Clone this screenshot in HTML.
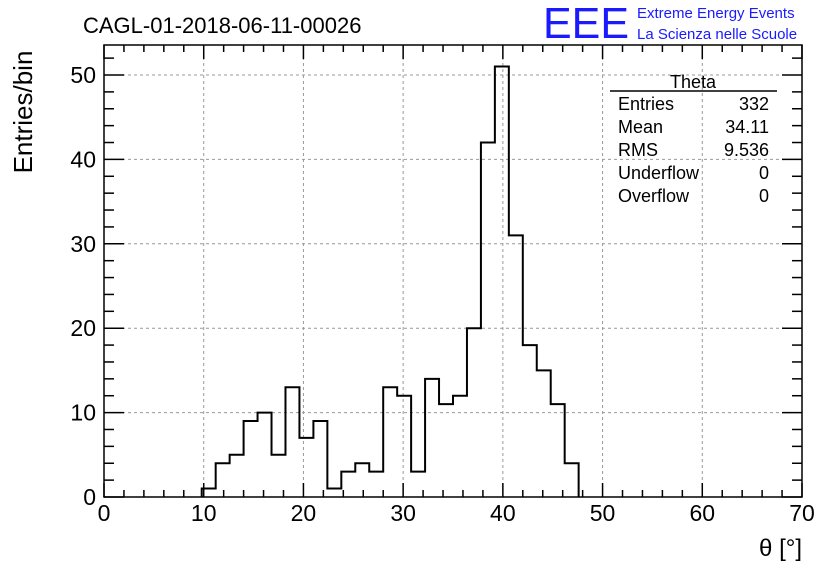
<!DOCTYPE html>
<html><head><meta charset="utf-8"><style>
body{margin:0;background:#fff;}
svg{display:block;font-family:"Liberation Sans",sans-serif;}
</style></head><body>
<svg id="c" width="836" height="572" viewBox="0 0 836 572">
<text x="83" y="33" font-size="22">CAGL-01-2018-06-11-00026</text>
<text x="543" y="38" font-size="44" fill="#1a1aff" font-weight="normal" textLength="86" lengthAdjust="spacingAndGlyphs">EEE</text>
<text x="637" y="18" font-size="15" fill="#1a1aff">Extreme Energy Events</text>
<text x="637" y="39" font-size="15" fill="#1a1aff">La Scienza nelle Scuole</text>
<text transform="translate(32,112) rotate(-90)" font-size="26" text-anchor="middle">Entries/bin</text>
<text x="802" y="556" font-size="24" text-anchor="end">θ [°]</text>
<g id="grid"></g><g id="ticks"></g><g id="labels"></g>
<path id="hist" fill="none" stroke="#000" stroke-width="2"/>
<rect x="104" y="45" width="698" height="452" fill="none" stroke="#000" stroke-width="1.5"/>
<g font-size="18">
<text x="693" y="88" text-anchor="middle">Theta</text>
<line x1="610" y1="91" x2="777" y2="91" stroke="#000" stroke-width="1.5"/>
<text x="618" y="110">Entries</text><text x="769" y="110" text-anchor="end">332</text>
<text x="618" y="133">Mean</text><text x="769" y="133" text-anchor="end">34.11</text>
<text x="618" y="156">RMS</text><text x="769" y="156" text-anchor="end">9.536</text>
<text x="618" y="179">Underflow</text><text x="769" y="179" text-anchor="end">0</text>
<text x="618" y="202">Overflow</text><text x="769" y="202" text-anchor="end">0</text>
</g>
</svg>
<script>
const binStart = 7;
const binWidth = 1.4;
const counts = [1,4,5,9,10,5,13,7,9,1,3,4,3,13,12,3,14,11,12,20,42,51,31,18,15,11,4];
const xTicks = [0,10,20,30,40,50,60,70];
const yTicks = [0,10,20,30,40,50];
const X0=104,X1=802,Y0=497,Y1=75;
const sx=v=>X0+(X1-X0)*v/70;
const sy=v=>Y0-(Y0-Y1)*v/50;
const ns="http://www.w3.org/2000/svg";
function mk(t,a,p){const e=document.createElementNS(ns,t);for(const k in a)e.setAttribute(k,a[k]);p.appendChild(e);return e;}
const grid=document.getElementById('grid'),ticks=document.getElementById('ticks'),labels=document.getElementById('labels');
xTicks.forEach(v=>{
  if(v>0&&v<70){const g=mk('line',{x1:sx(v),x2:sx(v),y1:45,y2:497,stroke:'#999','stroke-dasharray':'3,3'},grid);
  
  }
  const t=mk('text',{x:sx(v),y:521,'font-size':23,'text-anchor':'middle'},labels);t.textContent=v;
  
  
});
for(let v=0;v<=70;v+=2){const L=v%10==0?14:7;
  mk('line',{x1:sx(v),x2:sx(v),y1:497,y2:497-L,stroke:'#000','stroke-width':1.5},ticks);
  mk('line',{x1:sx(v),x2:sx(v),y1:45,y2:45+L,stroke:'#000','stroke-width':1.5},ticks);}
yTicks.forEach(v=>{
  if(v>0){const g=mk('line',{x1:104,x2:802,y1:sy(v),y2:sy(v),stroke:'#999','stroke-dasharray':'3,3'},grid);
  
  }
  const t=mk('text',{x:96,y:sy(v)+8,'font-size':23,'text-anchor':'end'},labels);t.textContent=v;
  
  
});
for(let v=0;v<=52;v+=2){const y=sy(v);if(y<45)break;const L=v%10==0?20:10;
  mk('line',{x1:104,x2:104+L,y1:y,y2:y,stroke:'#000','stroke-width':1.5},ticks);
  mk('line',{x1:802,x2:802-L,y1:y,y2:y,stroke:'#000','stroke-width':1.5},ticks);}
let d='M'+sx(binStart*binWidth)+','+sy(0);
counts.forEach((c,i)=>{const a=sx((binStart+i)*binWidth),b=sx((binStart+i+1)*binWidth);d+=' L'+a+','+sy(c)+' L'+b+','+sy(c);});
d+=' L'+sx((binStart+counts.length)*binWidth)+','+sy(0);
document.getElementById('hist').setAttribute('d',d);
</script>
</body></html>
